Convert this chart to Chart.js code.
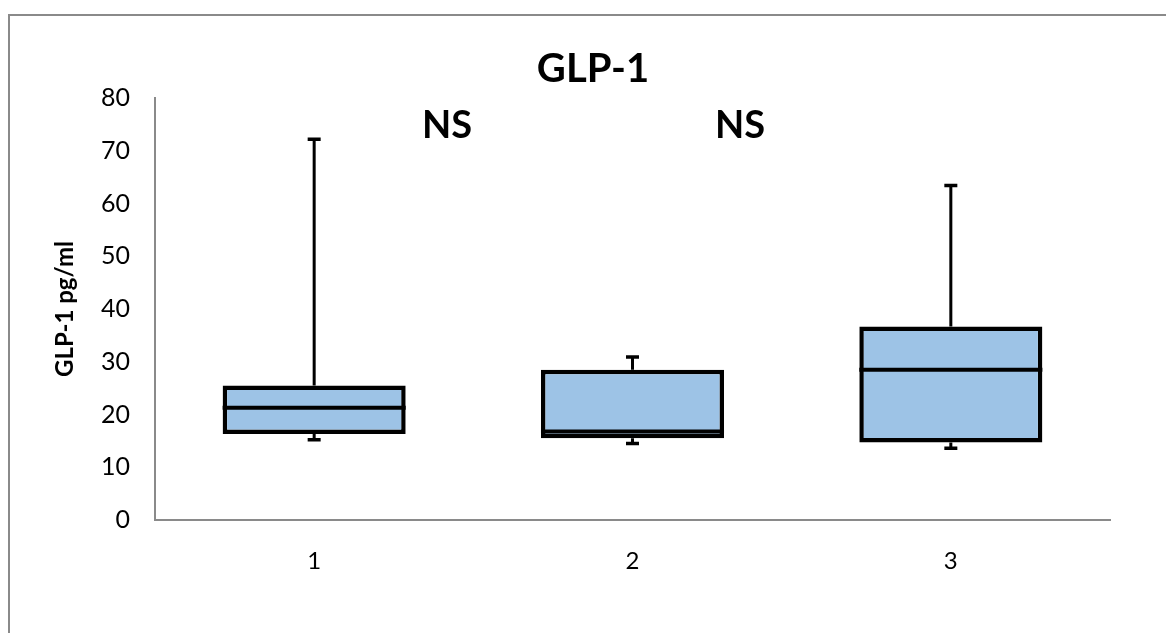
<!DOCTYPE html>
<html>
<head>
<meta charset="utf-8">
<script src="https://cdn.jsdelivr.net/npm/chart.js@4/dist/chart.umd.min.js"></script>
<style>
  html, body { margin: 0; padding: 0; background: #fff; }
  #wrap { position: relative; width: 1166px; height: 633px; }
  canvas { display: block; }
</style>
</head>
<body>
<div id="wrap"><canvas id="c" width="1166" height="633"></canvas></div>
<script>
// Groups and their five-number summaries (GLP-1, pg/ml)
const groups = ['1', '2', '3'];
const whiskerMin = [15.2, 14.5, 13.6];
const quartile1  = [16.3, 15.5, 14.7];
const medians    = [21.3, 16.8, 28.5];
const quartile3  = [25.5, 28.5, 36.7];
const whiskerMax = [72.2, 30.9, 63.4];
const yTicks = [0, 10, 20, 30, 40, 50, 60, 70, 80];
const significance = ['NS', 'NS'];

const FONT = 'Lato, "Open Sans", "DejaVu Sans", sans-serif';
const BOX_FILL = '#9DC3E6';

// Median lines and whiskers with end caps, positioned via the chart's scales
const boxExtras = {
  id: 'boxExtras',
  afterDatasetsDraw(chart) {
    const ctx = chart.ctx;
    const x = chart.scales.x, y = chart.scales.y;
    const meta = chart.getDatasetMeta(0);
    ctx.save();
    ctx.strokeStyle = '#000';
    groups.forEach((g, i) => {
      const bar = meta.data[i];
      const cx = x.getPixelForValue(i);
      const half = bar.width / 2;
      // median
      ctx.lineWidth = 4;
      ctx.beginPath();
      const ym = y.getPixelForValue(medians[i]);
      ctx.moveTo(cx - half, ym);
      ctx.lineTo(cx + half, ym);
      ctx.stroke();
      // whiskers
      const yq3 = y.getPixelForValue(quartile3[i]);
      const yq1 = y.getPixelForValue(quartile1[i]);
      const yMax = y.getPixelForValue(whiskerMax[i]);
      const yMin = y.getPixelForValue(whiskerMin[i]);
      ctx.lineWidth = 3;
      ctx.beginPath();
      ctx.moveTo(cx, yq3); ctx.lineTo(cx, yMax);
      ctx.moveTo(cx, yq1); ctx.lineTo(cx, yMin);
      ctx.stroke();
      // caps
      ctx.lineWidth = 3.5;
      ctx.beginPath();
      ctx.moveTo(cx - 6.5, yMax); ctx.lineTo(cx + 6.5, yMax);
      ctx.moveTo(cx - 6.5, yMin); ctx.lineTo(cx + 6.5, yMin);
      ctx.stroke();
    });
    ctx.restore();
  }
};

// Frame, title and significance labels
const decorations = {
  id: 'decorations',
  beforeDraw(chart) {
    const ctx = chart.ctx;
    ctx.save();
    ctx.fillStyle = '#fff';
    ctx.fillRect(0, 0, chart.width, chart.height);
    ctx.strokeStyle = '#8a8a8a';
    ctx.lineWidth = 2;
    ctx.beginPath();
    ctx.moveTo(chart.width, 15);
    ctx.lineTo(9, 15);
    ctx.lineTo(9, chart.height);
    ctx.stroke();
    ctx.restore();
  },
  afterDraw(chart) {
    const ctx = chart.ctx;
    ctx.save();
    ctx.fillStyle = '#000';
    ctx.textAlign = 'center';
    ctx.textBaseline = 'alphabetic';
    ctx.font = 'bold 40px ' + FONT;
    ctx.fillText('GLP-1', 593, 82);
    ctx.font = 'bold 38px ' + FONT;
    ctx.fillText(significance[0], 447, 138);
    ctx.fillText(significance[1], 740, 138);
    ctx.restore();
  }
};

new Chart(document.getElementById('c'), {
  type: 'bar',
  data: {
    labels: groups,
    datasets: [{
      data: groups.map((g, i) => [quartile1[i], quartile3[i]]),
      backgroundColor: BOX_FILL,
      borderColor: '#000',
      borderWidth: 4.5,
      borderSkipped: false,
      categoryPercentage: 1,
      barPercentage: 0.575
    }]
  },
  options: {
    responsive: false,
    animation: false,
    events: [],
    layout: { padding: { top: 98, left: 47, right: 56, bottom: 0 } },
    plugins: { legend: { display: false }, tooltip: { enabled: false }, title: { display: false } },
    scales: {
      x: {
        type: 'category',
        offset: true,
        grid: { display: false, drawTicks: false },
        border: { display: true, color: '#8a8a8a', width: 2 },
        ticks: { color: '#000', font: { family: FONT, size: 24 }, padding: 27 },
        afterFit(s) { s.height = 113; }
      },
      y: {
        min: 0,
        max: 80,
        afterBuildTicks(s) { s.ticks = yTicks.map(v => ({ value: v })); },
        grid: { display: false, drawTicks: false },
        border: { display: true, color: '#8a8a8a', width: 2 },
        ticks: { color: '#000', font: { family: FONT, size: 25 }, padding: 25 },
        title: {
          display: true,
          text: 'GLP-1 pg/ml',
          color: '#000',
          font: { family: FONT, size: 24, weight: 'bold' },
          padding: { top: 4, bottom: 4 }
        },
        afterFit(s) { s.width = 108; }
      }
    }
  },
  plugins: [decorations, boxExtras]
});
</script>
</body>
</html>
